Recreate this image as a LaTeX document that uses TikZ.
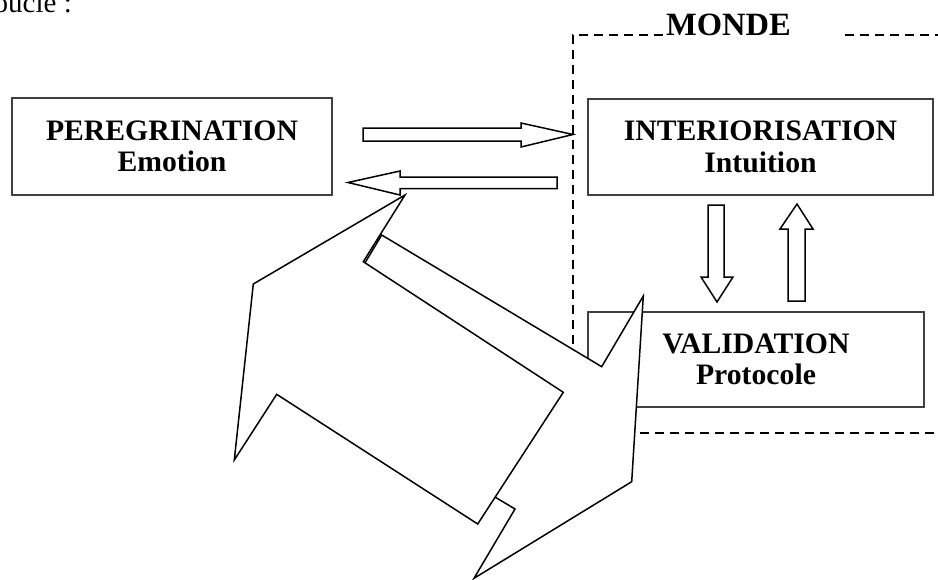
\documentclass[tikz,border=0pt]{standalone}
\usepackage{fontspec}
\setmainfont{Liberation Serif}
\usepackage{tikz}

\tikzset{
  etape/.style = {draw=black!75, line width=1.2pt, align=center, inner sep=0pt,
                  font=\bfseries\fontsize{29.7}{31.5}\selectfont},
  fleche/.style = {draw=black, line width=1.5pt, fill=white, line join=miter},
  cadre/.style = {draw=black, line width=1.4pt, dash pattern=on 9pt off 6pt}
}

\begin{document}
\begin{tikzpicture}[x=1pt, y=-1pt]
\useasboundingbox (0,0) rectangle (938,579);

% Text cut at the top of the page
\node[anchor=base east, inner sep=0pt, font=\fontsize{29}{32}\selectfont] (boucle) at (72,12.5) {boucle :};

% The dashed frame of the world
\draw[cadre] (663,35) -- (573,35) -- (573,433) -- (940,433);
\draw[cadre] (845,35) -- (940,35);
\node[anchor=base, inner sep=0pt, font=\bfseries\fontsize{32.5}{34}\selectfont] (monde) at (728.5,35) {MONDE};

% The three steps
\node[etape, minimum width=320pt, minimum height=97pt] (pereg) at (172,146.5) {PEREGRINATION\\Emotion};
\node[etape, minimum width=345pt, minimum height=96pt] (inter) at (760.5,147) {INTERIORISATION\\Intuition};
\node[etape, minimum width=336pt, minimum height=95pt] (valid) at (756,359.5) {VALIDATION\\Protocole};

% Block arrows between the steps
\draw[fleche] (363,128) -- (521,128) -- (521,123) -- (573,134.5) -- (521,147) -- (521,141) -- (363,141) -- cycle;
\draw[fleche] (557,177) -- (400,177) -- (400,171) -- (348,182.5) -- (400,195) -- (400,188.5) -- (557,188.5) -- cycle;
\draw[fleche] (708,205) -- (724,205) -- (724,277) -- (733,277) -- (717,302) -- (701,277) -- (708,277) -- cycle;
\draw[fleche] (788,301) -- (805,301) -- (805,229) -- (813,229) -- (797,204) -- (780,229) -- (788,229) -- cycle;

% The big double arrow: lower right half first
\draw[fleche] (631.7,481.7) -- (643.3,296) -- (601.7,366.7) -- (381.7,235) -- (296,378)
  -- (515,509) -- (474,578.3) -- cycle;
% then the upper left half on top
\draw[fleche] (253.3,284) -- (234.3,460) -- (276.7,394.3) -- (477.7,524) -- (563.3,392.3)
  -- (363.3,261.7) -- (405,195) -- cycle;

\end{tikzpicture}
\end{document}
